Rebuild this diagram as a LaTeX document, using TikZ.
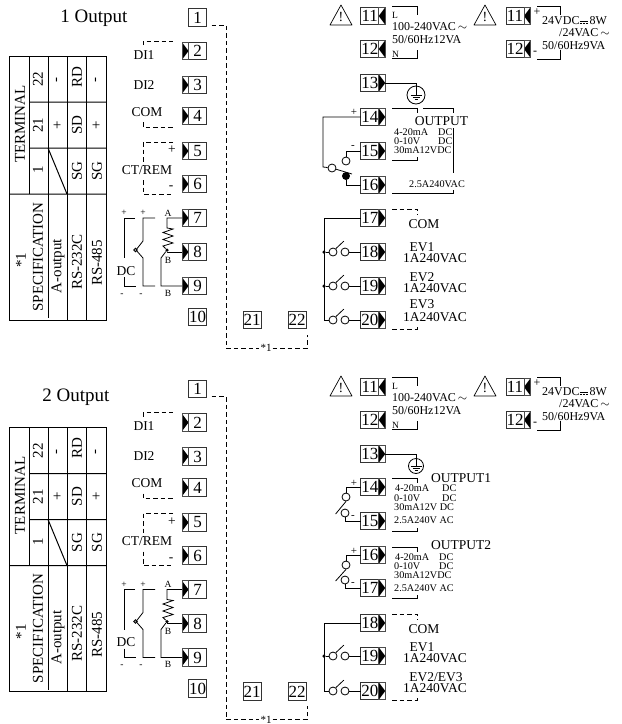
\documentclass[tikz,border=0pt]{standalone}
\usepackage{fontspec}
\setmainfont{Liberation Serif}
\usetikzlibrary{positioning,calc}
\newcommand{\tsz}[1]{\fontsize{#1}{#1}\selectfont}
\newcommand{\dcsym}{\rlap{\rule[3.4pt]{8pt}{0.6pt}}\rule[1.4pt]{2pt}{0.5pt}\kern1pt\rule[1.4pt]{2pt}{0.5pt}\kern1pt\rule[1.4pt]{2pt}{0.5pt}}
\tikzset{
	termbox/.style={draw=black!80,line width=0.9pt,fill=white,minimum width=18,minimum height=17.5,inner sep=0,outer sep=0,font=\tsz{17}},
	pinbox/.style={draw=black!70,line width=0.7pt,minimum width=6.5,minimum height=17.5,inner sep=0,outer sep=0},
	pintipe/.style={pinbox,path picture={\fill (path picture bounding box.north west) -- (path picture bounding box.east) -- (path picture bounding box.south west) -- cycle;}},
	pintipw/.style={pinbox,path picture={\fill (path picture bounding box.north east) -- (path picture bounding box.west) -- (path picture bounding box.south east) -- cycle;}},
	wire/.style={line width=0.8pt},
	dashwire/.style={line width=0.8pt,dash pattern=on 4.5pt off 3pt},
	lbl/.style={inner sep=0,font=\tsz{13.5}},
	lblout/.style={inner sep=0,font=\tsz{10.2}},
	lblpow/.style={inner sep=0,font=\tsz{12}},
	lblsm/.style={inner sep=0,font=\tsz{9.5}},
	tbltxt/.style={inner sep=0,rotate=90,font=\tsz{15}},
	contact/.style={circle,draw,line width=0.8pt,fill=white,inner sep=0,minimum size=8},
	blackdot/.style={circle,fill,inner sep=0,minimum size=3.5},
}
\newcommand{\termW}[3]{\node[termbox] (#1) at #2 {#3}; \node[pintipe,left=0pt of #1] (#1p) {};}
\newcommand{\termE}[3]{\node[termbox] (#1) at #2 {#3}; \node[pintipw,right=0pt of #1] (#1p) {};}
\newcommand{\termF}[3]{\node[termbox] (#1) at #2 {#3}; \node[pintipe,right=0pt of #1] (#1p) {};}
\newcommand{\gndsym}[3]{
	\node[circle,draw,line width=0.8pt,inner sep=0,minimum size=#3] (#1) at #2 {};
	\draw[wire] (#1.north) -- (#1.center);
	\draw[wire] ($(#1.center)+(-5.5,0)$) -- ($(#1.center)+(5.5,0)$);
	\draw[wire] ($(#1.center)+(-3.5,2.2)$) -- ($(#1.center)+(3.5,2.2)$);
	\draw[wire] ($(#1.center)+(-1.5,4.2)$) -- ($(#1.center)+(1.5,4.2)$);
}
\newcommand{\evrow}[3]{
	\node[contact] (#1a) at (333,#2) {};
	\node[contact] (#1b) at (345,#2) {};
	\draw[wire] (#1b) -- (#3.west);
	\draw[wire] (#1a.50) -- ++(8,-7.5);
}
% left half of one panel
\newcommand{\leftpanel}[2]{
\begin{scope}[shift={(0,#2)}]
\draw[line width=1pt] (9,56) rectangle (106,320);
\draw[line width=1pt] (29,56) -- (29,194) (48,56) -- (48,318) (67,56) -- (67,320) (86,56) -- (86,320);
\draw[line width=1pt] (29,102) -- (106,102) (29,148) -- (106,148) (9,194) -- (106,194) (48,148) -- (67,194);
\foreach \x/\y/\t in {20/124/TERMINAL,38/79/22,58/80/-,77/77/RD,97/80/-,38/125/21,58/125/+,77/125/SD,97/125/+,38/170/1,77/171/SG,97/171/SG,21/260/*1,38/257/SPECIFICATION,58/266/A-output,77/262/RS-232C,97/263/RS-485}
	{\node[tbltxt] (#1tb\x-\y) at (\x,\y) {\t};}
\node[termbox] (#1t1) at (197.5,17.5) {1};
\foreach \n/\y in {2/51,3/85,4/116,5/151,6/184,7/218,8/252,9/286}
	{\termW{#1t\n}{(197.5,\y)}{\n}}
\node[termbox] (#1t10) at (197.5,317) {10};
\node[termbox] (#1t21) at (252,320) {21};
\node[termbox] (#1t22) at (297,320) {22};
%
\coordinate (#1da) at ($(#1t1.south east)+(5,-1)$);
\coordinate (#1db) at ($(#1t22.south)+(10,6)$);
\node[lblsm,font=\tsz{11},fill=white,inner xsep=1pt] (#1star) at (266,348) {*1};
\draw[dashwire] (#1da) -| (226,348) -- (#1star.west);
\draw[dashwire] (#1star.east) -| (#1db);
%
\node[lbl] (#1di1) at (144,55) {DI1};
\node[lbl] (#1di2) at (144,85) {DI2};
\node[lbl] (#1com) at (147,112) {COM};
\node[lbl] (#1ct) at (147,170) {CT/REM};
\node[lbl] (#1ctp) at (172,150) {+};
\node[lbl] (#1ctm) at (171,188) {-};
\draw[dashwire] (143,45) -- (143,41) -- (173,41);
\draw[dashwire] (143,122) -- (143,127) -- (173,127);
\draw[dashwire] (173,142) -- (143,142) -- (143,165);
\draw[dashwire] (143,180) -- (143,194) -- (173,194);
%
\node[lblsm] (#1pa) at (124,213) {+};
\node[lblsm] (#1pb) at (143,213) {+};
\node[lblsm] (#1ra) at (168,213) {A};
\node[lblsm] (#1rb) at (168,260) {B};
\node[lblsm] (#1rc) at (168,293) {B};
\node[lblsm] (#1ma) at (122,295) {-};
\node[lblsm] (#1mb) at (141,295) {-};
\node[lbl] (#1dc) at (126,271) {DC};
\draw[wire] (135,218) -- (124,218) -- (124,258);
\draw[wire] (124,277) -- (124,286) -- (136,286);
\draw[wire] (155,218) -- (143,218) -- (143,241) -- (136,250) -- (143,258) -- (143,286) -- (155,286);
\node[circle,draw,line width=0.8pt,inner sep=0,minimum size=3.5] (#1sw) at (135.5,250) {};
\node[blackdot] (#1j) at (167,250) {};
\draw[wire] (#1t7p.west) -| (167,228) -- (173,229) -- (163,232.5) -- (173,236) -- (163,239.5) -- (173,243) -- (163,246) -- (#1j);
\draw[wire] (#1j) |- (#1t8p.west);
\draw[wire] (#1j) -- (161,258) |- (#1t9p.west);
\end{scope}
}
% power supply terminals of one panel
\newcommand{\powerpanel}[2]{
\begin{scope}[shift={(0,#2)}]
\foreach \x/\s in {341/a,485/b}{
	\coordinate (#1w\s) at (\x,5);
	\draw[line width=0.7pt,line join=round] (#1w\s) -- ++(11,20) -- ++(-22,0) -- cycle;
	\node[lbl,font=\tsz{14}] (#1x\s) at (\x,17.5) {!};
}
\termE{#1t11}{(369.75,16)}{11}
\termE{#1t12}{(369.75,49)}{12}
\termE{#1s11}{(515,16)}{11}
\termE{#1s12}{(515,49)}{12}
\draw[wire] (392,6) -- (417,6) -- (417,15);
\draw[wire] (417,50) -- (417,58) -- (392,58);
\node[lblsm,anchor=west] (#1l) at (392,15) {L};
\node[lblsm,anchor=west] (#1n) at (392,54) {N};
\node[lblpow,anchor=west] (#1pw) at (392,27) {100-240VAC$\,\sim$};
\node[lblpow,anchor=west] (#1pf) at (392,40) {50/60Hz12VA};
\draw[wire] (537,6) -- (560,6) -- (560,15);
\draw[wire] (560,50) -- (560,59) -- (537,59);
\node[lblpow] (#1sp) at (537,12) {+};
\node[lblpow] (#1sm) at (535,53) {-};
\node[lblpow,anchor=west] (#1sa) at (542,21) {24VDC\dcsym\,8W};
\node[lblpow,anchor=west] (#1sb) at (559,33) {/24VAC$\,\sim$};
\node[lblpow,anchor=west] (#1sc) at (542,46) {50/60Hz9VA};
\end{scope}
}
\begin{document}
\begin{tikzpicture}[x=1pt,y=-1pt]
\useasboundingbox (0,0) rectangle (622,724);
\node[inner sep=0,font=\tsz{19}] (title1) at (94,18) {1 Output};
\node[inner sep=0,font=\tsz{19}] (title2) at (76,397) {2 Output};
\leftpanel{a}{0}
\leftpanel{b}{371.5}
\powerpanel{a}{0}
\powerpanel{b}{371}
%
% 1 Output, right side
\termF{at13}{(369.75,83)}{13}
\termF{at14}{(369.75,117)}{14}
\termF{at15}{(369.75,151)}{15}
\termF{at16}{(369.75,185)}{16}
\termF{at17}{(369.75,218)}{17}
\termF{at18}{(369.75,252)}{18}
\termF{at19}{(369.75,286)}{19}
\termF{at20}{(369.75,320)}{20}
\gndsym{agnd}{(416,95)}{18}
\draw[wire] (at13p.east) -| (agnd.north);
\draw[wire] (392,108) -- (417,108) -- (417,113);
\draw[wire] (423,108) -- (453,108) -- (453,113);
\draw[wire] (453,128) -- (453,173);
\draw[wire] (392,160) -- (417,160) -- (417,157);
\draw[wire] (453,190) -- (453,193) -- (392,193);
\node[lbl] (aout) at (441.5,121) {OUTPUT};
\node[lblout,anchor=west] (ao1) at (394,132) {4-20mA};
\node[lblout,anchor=west] (ao2) at (394,141.5) {0-10V};
\node[lblout,anchor=west] (ao3) at (394,150.5) {30mA12VDC};
\node[lblout,anchor=west] (ad1) at (438,132) {DC};
\node[lblout,anchor=west] (ad2) at (438,141.5) {DC};
\node[lblout,anchor=west] (ao4) at (409,184) {2.5A240VAC};
\node[lbl,font=\tsz{11}] (ap14) at (354,112) {+};
\node[lbl,font=\tsz{11}] (am15) at (353,147) {-};
\node[contact] (ak1) at (332,168) {};
\node[contact] (ak2) at (346,161) {};
\node[circle,fill,inner sep=0,minimum size=8] (ak3) at (346,176) {};
\draw[wire] (at14.west) -| (323,167) -- (ak1);
\draw[wire] (at15.west) -| (ak2);
\draw[wire] (ak3) |- (at16.west);
\draw[wire] (ak1) -- (352,174);
%
\draw[dashwire] (392,209) -- (417,209) -- (417,215);
\draw[dashwire] (392,329) -- (417,329) -- (417,325);
\node[lbl] (acom) at (424,224) {COM};
\node[lbl] (aev1) at (422,247) {EV1};
\node[lbl] (aer1) at (435,258) {1A240VAC};
\node[lbl] (aev2) at (422,277) {EV2};
\node[lbl] (aer2) at (435,288) {1A240VAC};
\node[lbl] (aev3) at (422,304) {EV3};
\node[lbl] (aer3) at (435,317) {1A240VAC};
\evrow{ae18}{252}{at18}
\evrow{ae19}{286}{at19}
\evrow{ae20}{320}{at20}
\node[blackdot] (adot1) at (324,252) {};
\node[blackdot] (adot2) at (324,286) {};
\draw[wire] (at17.west) -| (324,320) -- (ae20a);
\draw[wire] (adot1) -- (ae18a);
\draw[wire] (adot2) -- (ae19a);
%
% 2 Output, right side
\termF{bt13}{(369.75,454)}{13}
\termF{bt14}{(369.75,487)}{14}
\termF{bt15}{(369.75,521)}{15}
\termF{bt16}{(369.75,555)}{16}
\termF{bt17}{(369.75,588)}{17}
\termF{bt18}{(369.75,623)}{18}
\termF{bt19}{(369.75,656)}{19}
\termF{bt20}{(369.75,691)}{20}
\gndsym{bgnd}{(416,466)}{15}
\draw[wire] (bt13p.east) -| (bgnd.north);
\draw[wire] (392,478) -- (417,478) -- (417,483);
\draw[wire] (392,531) -- (417,531) -- (417,528);
\node[lbl,anchor=west] (bout1) at (431,478) {OUTPUT1};
\node[lblout,anchor=west] (bo1) at (395,488.5) {4-20mA};
\node[lblout,anchor=west] (bo2) at (394,498) {0-10V};
\node[lblout,anchor=west] (bo3) at (394,507) {30mA12V DC};
\node[lblout,anchor=west] (bd1) at (442,488.5) {DC};
\node[lblout,anchor=west] (bd2) at (442,498) {DC};
\node[lblout,anchor=west] (bo4) at (394,520) {2.5A240V AC};
\draw[wire] (392,547) -- (417,547) -- (417,552);
\draw[wire] (392,598) -- (417,598) -- (417,595);
\node[lbl,anchor=west] (bout2) at (431,545) {OUTPUT2};
\node[lblout,anchor=west] (bo5) at (395,557) {4-20mA};
\node[lblout,anchor=west] (bo6) at (394,566.5) {0-10V};
\node[lblout,anchor=west] (bo7) at (394,575.5) {30mA12VDC};
\node[lblout,anchor=west] (bd3) at (439,557) {DC};
\node[lblout,anchor=west] (bd4) at (439,566.5) {DC};
\node[lblout,anchor=west] (bo8) at (394,588) {2.5A240V AC};
\foreach \u/\l/\yu/\yl/\tu/\tl in {a/b/497/513/14/15,c/d/565/580/16/17}{
	\node[contact] (bk\u) at (346,\yu) {};
	\node[contact] (bk\l) at (345,\yl) {};
	\draw[wire] (bt\tu.west) -| (bk\u);
	\draw[wire] (bt\tl.west) -| (bk\l);
	\draw[wire] ($(bk\l.west)+(-5,1)$) -- (bk\u.south);
	\node[lbl,font=\tsz{11}] (bp\tu) at (354,\yu-14) {+};
	\node[lbl,font=\tsz{11}] (bm\tl) at (353,\yl+4) {-};
}
\draw[dashwire] (392,614) -- (417,614) -- (417,620);
\draw[dashwire] (392,700) -- (417,700) -- (417,695);
\node[lbl] (bcom) at (424,629) {COM};
\node[lbl] (bev1) at (422,647) {EV1};
\node[lbl] (ber1) at (435,658) {1A240VAC};
\node[lbl] (bev2) at (436,677) {EV2/EV3};
\node[lbl] (ber2) at (435,688) {1A240VAC};
\evrow{be19}{656}{bt19}
\evrow{be20}{691}{bt20}
\node[blackdot] (bdot) at (324,656) {};
\draw[wire] (bt18.west) -| (324,691) -- (be20a);
\draw[wire] (bdot) -- (be19a);
\end{tikzpicture}
\end{document}
